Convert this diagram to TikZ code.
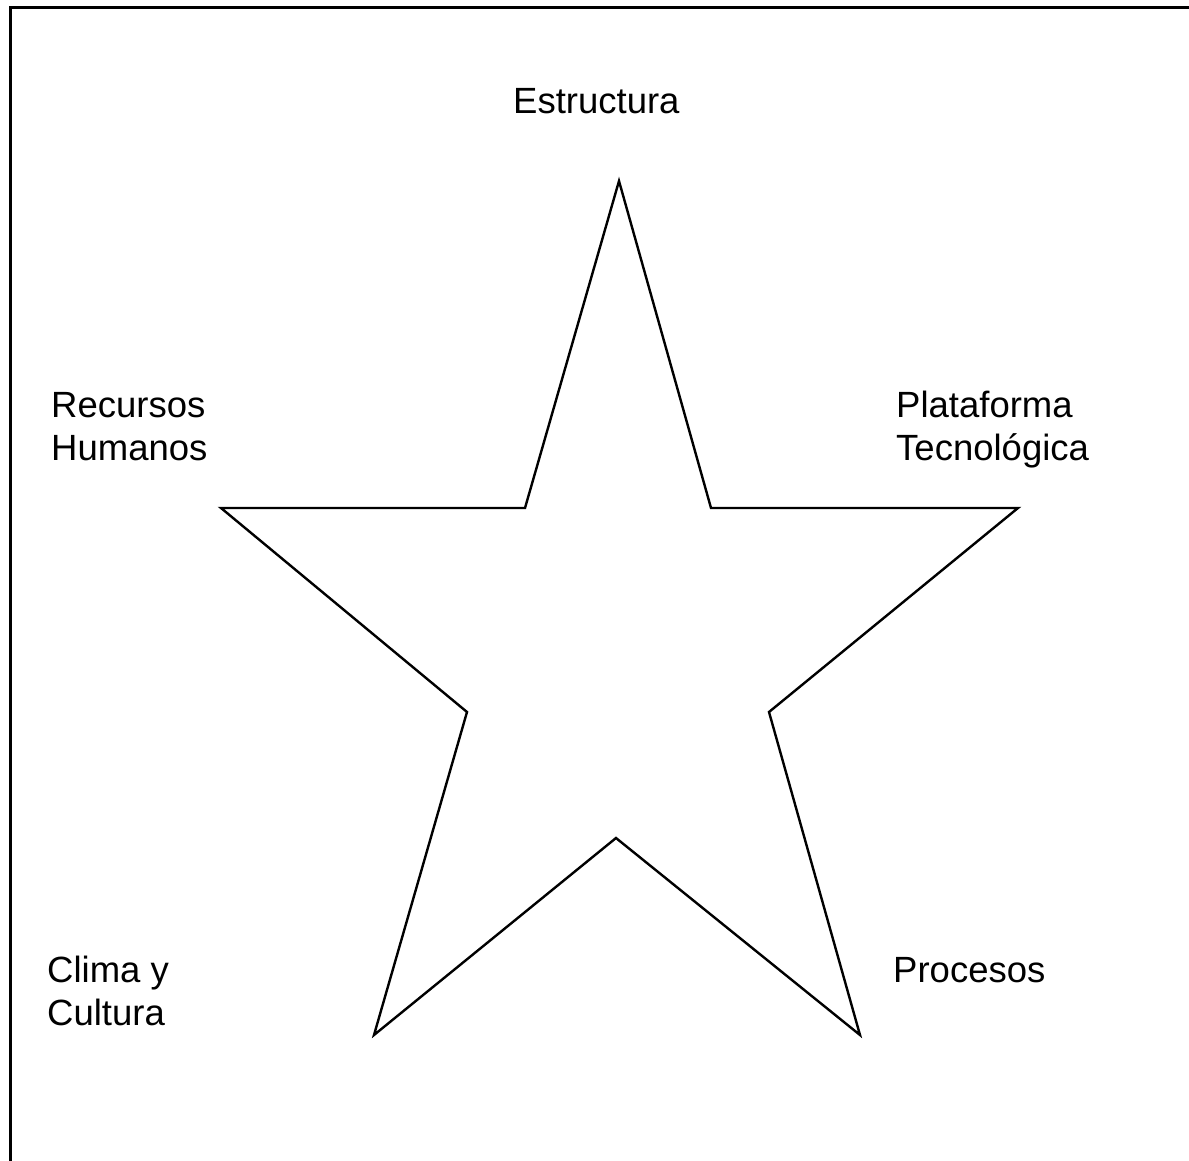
\documentclass[tikz,border=0pt]{standalone}
\usepackage{fontspec}
\setmainfont{Liberation Sans}
\begin{document}
\begin{tikzpicture}[x=1pt,y=-1pt,
  lbl/.style={inner sep=0pt,anchor=base west,font=\fontsize{36.5}{43}\selectfont,align=left},
  starline/.style={line width=2.4pt,line join=miter},
  frame/.style={line width=3pt}]
\useasboundingbox (0,0) rectangle (1189,1161);
% frame (top and left edges)
\coordinate (fbl) at (10,1161);
\coordinate (ftl) at (10,8);
\coordinate (ftr) at (1189,8);
\draw[frame] (fbl) -- (ftl) -- (ftr);
% star vertices
\coordinate (top) at (619,181);
\coordinate (irt) at (711,508);
\coordinate (rt) at (1018,508);
\coordinate (ir) at (769,712);
\coordinate (br) at (860,1035);
\coordinate (ib) at (616,838);
\coordinate (bl) at (374,1035);
\coordinate (il) at (467,712);
\coordinate (lt) at (221,508);
\coordinate (ilt) at (525,508);
\draw[starline] (top) -- (irt) -- (rt) -- (ir) -- (br) -- (ib) -- (bl) -- (il) -- (lt) -- (ilt) -- cycle;
% labels (anchor = baseline of last line)
\node[lbl] (estr) at (513,114) {Estructura};
\node[lbl] (rh) at (51,460) {Recursos\\Humanos};
\node[lbl] (pt) at (896,460) {Plataforma\\Tecnológica};
\node[lbl] (cc) at (47,1025) {Clima y\\Cultura};
\node[lbl] (proc) at (893,982) {Procesos};
\end{tikzpicture}
\end{document}
